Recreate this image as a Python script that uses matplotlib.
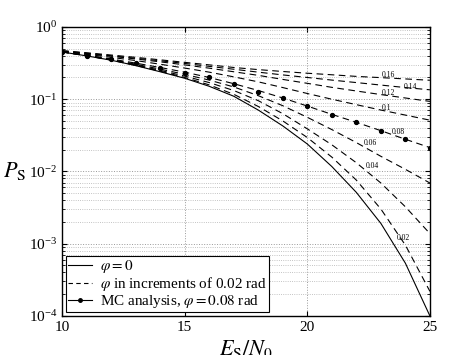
import numpy as np
import matplotlib
matplotlib.use("Agg")
import matplotlib.pyplot as plt
from matplotlib.lines import Line2D

plt.rcParams['font.family'] = ['Liberation Serif', 'DejaVu Serif']
plt.rcParams['mathtext.fontset'] = 'stix'

# Es/N0 en dB
es_n0 = [10, 11, 12, 13, 14, 15, 16, 17, 18, 19, 20, 21, 22, 23, 24, 25]

# phi = 0 (trait plein)
ps_phi0 = [0.451, 0.398, 0.347, 0.292, 0.240, 0.195, 0.151, 0.110, 0.0708, 0.0427,
           0.0240, 0.0117, 0.00513, 0.00191, 0.000537, 0.0001]

# phi = 0.02 ... 0.16 rad (tirets)
phi_vals = ['0.02', '0.04', '0.06', '0.08', '0.1', '0.12', '0.14', '0.16']
ps_phi002 = [0.451, 0.399, 0.348, 0.294, 0.244, 0.200, 0.158, 0.117, 0.0794, 0.0501,
             0.0295, 0.0158, 0.00759, 0.00302, 0.000955, 0.000219]
ps_phi004 = [0.452, 0.401, 0.351, 0.299, 0.251, 0.209, 0.170, 0.132, 0.0955, 0.0631,
             0.0389, 0.0234, 0.0132, 0.00692, 0.00324, 0.00138]
ps_phi006 = [0.453, 0.404, 0.355, 0.305, 0.261, 0.221, 0.184, 0.148, 0.112, 0.0813,
             0.0562, 0.0380, 0.0251, 0.0162, 0.0107, 0.00692]
ps_phi008 = [0.455, 0.407, 0.361, 0.316, 0.275, 0.237, 0.200, 0.164, 0.132, 0.104,
             0.0804, 0.0617, 0.0479, 0.0367, 0.0279, 0.0214]
ps_phi010 = [0.458, 0.419, 0.380, 0.343, 0.305, 0.270, 0.237, 0.204, 0.174, 0.145,
             0.120, 0.100, 0.0841, 0.0708, 0.0603, 0.0513]
ps_phi012 = [0.462, 0.427, 0.394, 0.361, 0.329, 0.299, 0.269, 0.240, 0.214, 0.188,
             0.166, 0.146, 0.130, 0.116, 0.104, 0.0933]
ps_phi014 = [0.467, 0.433, 0.400, 0.369, 0.340, 0.313, 0.285, 0.260, 0.237, 0.217,
             0.200, 0.184, 0.170, 0.157, 0.145, 0.135]
ps_phi016 = [0.471, 0.440, 0.409, 0.380, 0.351, 0.324, 0.299, 0.275, 0.257, 0.242,
             0.229, 0.218, 0.207, 0.199, 0.191, 0.183]

# simulation Monte Carlo, phi = 0.08 rad
ps_mc = [0.447, 0.398, 0.357, 0.321, 0.274, 0.234, 0.200, 0.162, 0.127, 0.105,
         0.0804, 0.0605, 0.0479, 0.0367, 0.0279, 0.0214]

# position des etiquettes (Es/N0, P_S)
label_pos = [(23.9, 0.0012), (22.67, 0.0119), (22.59, 0.0248), (23.73, 0.0356),
             (23.24, 0.0757), (23.32, 0.121), (24.22, 0.149), (23.32, 0.217)]

dashed = [ps_phi002, ps_phi004, ps_phi006, ps_phi008,
          ps_phi010, ps_phi012, ps_phi014, ps_phi016]

fig = plt.figure(figsize=(4.74, 3.55), dpi=100)
ax = fig.add_axes([0.131, 0.110, 0.776, 0.814])

ax.semilogy(es_n0, ps_phi0, color='black', lw=0.8)
for ps in dashed:
    ax.semilogy(es_n0, ps, color='black', lw=0.8, linestyle=(0, (6, 4)))
ax.semilogy(es_n0, ps_mc, linestyle='none', marker='o', ms=2.8, color='black')

for lab, (xx, yy) in zip(phi_vals, label_pos):
    ax.text(xx, yy, lab, fontsize=5.5, ha='center', va='center')

ax.set_xlim(10, 25)
ax.set_ylim(1e-4, 1)
ax.set_xticks([10, 15, 20, 25])
ax.grid(True, which='major', linestyle=':', color='#999999', lw=0.7)
ax.grid(True, which='minor', linestyle=':', color='#b0b0b0', lw=0.6)
ax.tick_params(which='both', direction='in', right=True, top=True, labelsize=11)
ax.tick_params(axis='x', which='minor', bottom=False, top=False)
for s in ax.spines.values():
    s.set_linewidth(1.0)

ax.set_xlabel(r'$E_\mathrm{S}/N_0$', fontsize=16, labelpad=3)
ax.set_ylabel(r'$P_\mathrm{S}$', fontsize=16, rotation=0, va='center', ha='right')
ax.yaxis.set_label_coords(-0.098, 0.5)

handles = [
    Line2D([], [], color='black', lw=0.8),
    Line2D([], [], color='black', lw=0.8, linestyle=(0, (4, 3))),
    Line2D([], [], color='black', lw=0.8, marker='o', ms=2.5),
]
labels = [r'$\varphi = 0$', r'$\varphi$ in increments of 0.02 rad',
          r'MC analysis, $\varphi = 0.08$ rad']
leg = ax.legend(handles, labels, loc='lower left', fontsize=10.9, fancybox=False,
                edgecolor='black', framealpha=1, handlelength=1.6,
                borderpad=0.15, labelspacing=0.0, handletextpad=0.5,
                borderaxespad=0.25)
leg.get_frame().set_linewidth(0.8)

fig.savefig('out.png', dpi=100)
